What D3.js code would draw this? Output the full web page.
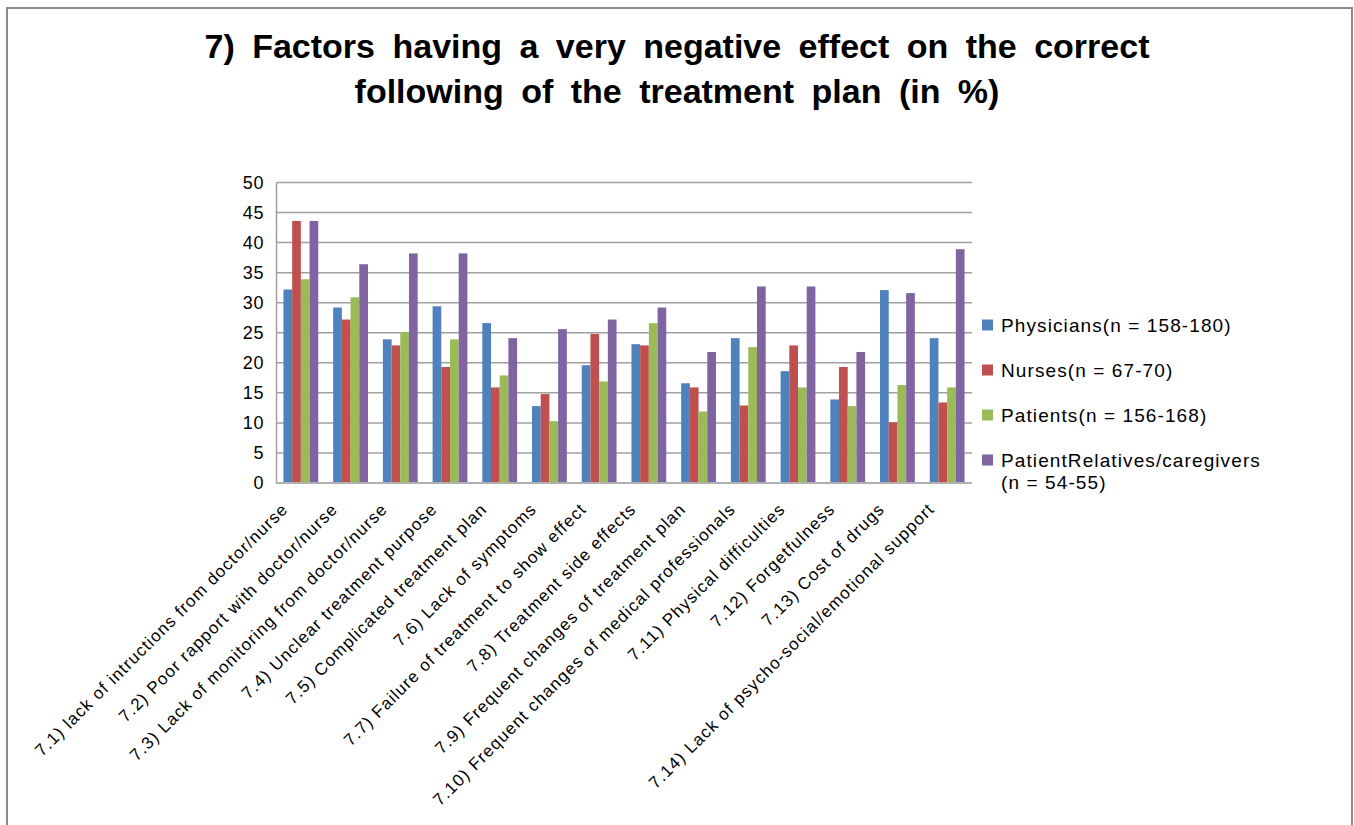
<!DOCTYPE html>
<html>
<head>
<meta charset="utf-8">
<script src="https://cdn.jsdelivr.net/npm/d3@7/dist/d3.min.js"></script>
<style>
  html, body { margin: 0; padding: 0; background: #fff; }
  svg { display: block; }
  text { font-family: "Liberation Sans", Arial, sans-serif; fill: #000; }
</style>
</head>
<body>
<svg id="chart" width="1354" height="825"></svg>
<script>
// Survey factors (x categories)
const categories = [
  "7.1) lack of intructions from doctor/nurse",
  "7.2) Poor rapport with doctor/nurse",
  "7.3) Lack of monitoring from doctor/nurse",
  "7.4) Unclear treatment purpose",
  "7.5) Complicated treatment plan",
  "7.6) Lack of symptoms",
  "7.7) Failure of treatment to show effect",
  "7.8) Treatment side effects",
  "7.9) Frequent changes of treatment plan",
  "7.10) Frequent changes of medical professionals",
  "7.11) Physical difficulties",
  "7.12) Forgetfulness",
  "7.13) Cost of drugs",
  "7.14) Lack of psycho-social/emotional support"
];

// Respondent groups
const seriesNames = [
  "Physicians(n = 158-180)",
  "Nurses(n = 67-70)",
  "Patients(n = 156-168)",
  "PatientRelatives/caregivers (n = 54-55)"
];

// Percent of respondents per group
const physicians = [32.2, 29.2, 23.9, 29.4, 26.6, 12.8, 19.6, 23.1, 16.6, 24.1, 18.6, 13.9, 32.1, 24.1];
const nurses     = [43.6, 27.2, 22.9, 19.3, 15.9, 14.8, 24.8, 22.9, 15.9, 12.9, 22.9, 19.3, 10.1, 13.4];
const patients   = [33.9, 30.9, 25.1, 23.9, 17.9, 10.3, 16.9, 26.6, 11.9, 22.6, 15.9, 12.8, 16.3, 15.9];
const relatives  = [43.6, 36.4, 38.2, 38.2, 24.1, 25.6, 27.2, 29.2, 21.8, 32.7, 32.7, 21.8, 31.6, 38.9];

const yTicks = [0, 5, 10, 15, 20, 25, 30, 35, 40, 45, 50];

const colors = ["#4f81bd", "#c0504d", "#9bbb59", "#8064a2"];
const seriesValues = [physicians, nurses, patients, relatives];

const svg = d3.select("#chart");

// Outer chart frame
svg.append("rect")
  .attr("x", 7).attr("y", 8)
  .attr("width", 1345).attr("height", 840)
  .attr("fill", "none").attr("stroke", "#8c8c8c").attr("stroke-width", 2);

// Title
const title = svg.append("text")
  .attr("text-anchor", "middle")
  .attr("font-weight", "bold")
  .attr("font-size", 34);
title.append("tspan").attr("x", 677).attr("y", 58)
  .attr("word-spacing", 8)
  .text("7) Factors having a very negative effect on the correct");
title.append("tspan").attr("x", 677).attr("y", 103)
  .attr("word-spacing", 8)
  .text("following of the treatment plan (in %)");

const plot = { left: 276, right: 972, top: 182.5, bottom: 483 };

const x = d3.scaleBand()
  .domain(categories)
  .range([plot.left, plot.right])
  .paddingInner(0.3)
  .paddingOuter(0.15);

const xs = d3.scaleBand()
  .domain(d3.range(seriesNames.length))
  .range([0, x.bandwidth()]);

const y = d3.scaleLinear().domain([0, 50]).range([plot.bottom, plot.top]);

// Horizontal gridlines
svg.append("g")
  .selectAll("line")
  .data(yTicks.filter(t => t > 0))
  .join("line")
  .attr("x1", plot.left).attr("x2", plot.right)
  .attr("y1", d => y(d)).attr("y2", d => y(d))
  .attr("stroke", "#a0a0a0").attr("stroke-width", 1.5);

// Bars
const groups = svg.append("g")
  .selectAll("g")
  .data(categories)
  .join("g")
  .attr("transform", d => `translate(${x(d)},0)`);

groups.selectAll("rect")
  .data((d, i) => seriesValues.map((vals, s) => ({ s, v: vals[i] })))
  .join("rect")
  .attr("x", d => xs(d.s))
  .attr("width", xs.bandwidth())
  .attr("y", d => y(d.v))
  .attr("height", d => y(0) - y(d.v))
  .attr("fill", d => colors[d.s]);

// Y axis
const yAxis = svg.append("g")
  .attr("transform", `translate(${plot.left},0)`)
  .call(d3.axisLeft(y).tickValues(yTicks).tickSize(0).tickPadding(12));
yAxis.select(".domain").attr("stroke", "#a0a0a0").attr("stroke-width", 1.5);
yAxis.selectAll("text")
  .attr("font-size", 18)
  .attr("letter-spacing", 0.6)
  .attr("font-family", "Liberation Sans, Arial, sans-serif")
  .attr("fill", "#000");

// X axis baseline
svg.append("line")
  .attr("x1", plot.left).attr("x2", plot.right)
  .attr("y1", y(0)).attr("y2", y(0))
  .attr("stroke", "#b0b0b0").attr("stroke-width", 2);

// Rotated category labels
svg.append("g")
  .selectAll("text")
  .data(categories)
  .join("text")
  .attr("transform", d => `translate(${x(d) + x.bandwidth() / 2 - 16},${plot.bottom + 23}) rotate(-45)`)
  .attr("text-anchor", "end")
  .attr("dy", "0.35em")
  .attr("font-size", 17)
  .attr("letter-spacing", 1.1)
  .text(d => d);

// Legend
const legend = svg.append("g");
const legendY = [325, 370, 415, 460];
seriesNames.forEach((name, i) => {
  legend.append("rect")
    .attr("x", 982).attr("y", legendY[i] - 5.5)
    .attr("width", 11).attr("height", 11)
    .attr("fill", colors[i]);
  const t = legend.append("text")
    .attr("x", 1001).attr("y", legendY[i])
    .attr("dy", "0.35em")
    .attr("font-size", 19)
    .attr("letter-spacing", 1.1);
  if (i === 3) {
    t.append("tspan").attr("x", 1001).text("PatientRelatives/caregivers");
    t.append("tspan").attr("x", 1001).attr("dy", "1.2em").text("(n = 54-55)");
  } else {
    t.text(name);
  }
});
</script>
</body>
</html>
